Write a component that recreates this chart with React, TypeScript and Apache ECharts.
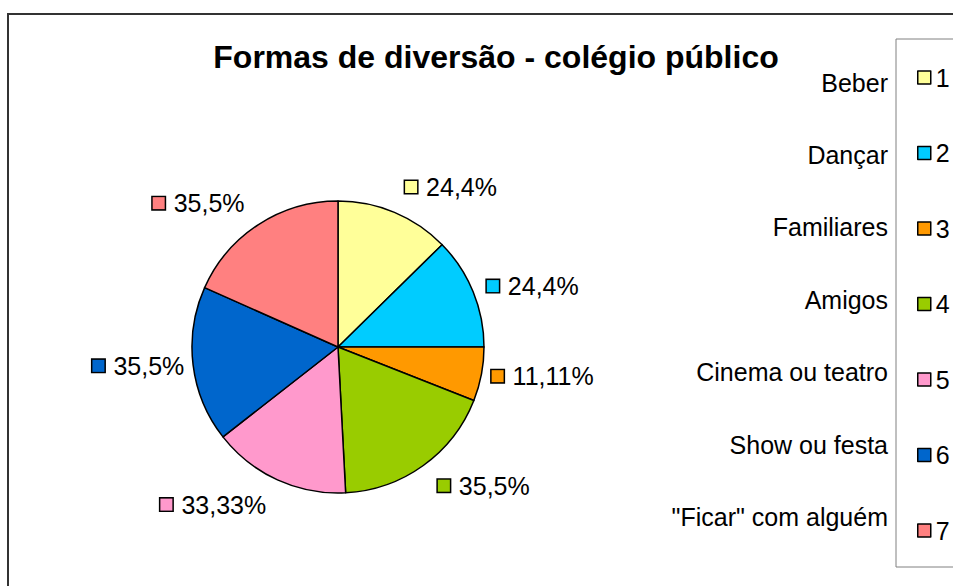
import React, { useEffect, useRef } from "react";
import * as echarts from "echarts";

const categories = ["Beber", "Dançar", "Familiares", "Amigos", "Cinema ou teatro", "Show ou festa", "\"Ficar\" com alguém"];
// slice sizes as read from the drawn sectors (degrees of the circle)
const sliceSizes = [45.5, 44.5, 21.5, 65.5, 55, 62, 66];
// percentages written in the data labels
const labelPercents = ["24,4", "24,4", "11,11", "35,5", "33,33", "35,5", "35,5"];
const colors = ["#FFFF99", "#00CCFF", "#FF9900", "#99CC00", "#FF99CC", "#0066CC", "#FF8080"];
const legendNumbers = ["1", "2", "3", "4", "5", "6", "7"];
const titleText = "Formas de diversão - colégio público";

const FONT = "'Liberation Sans', Arial, sans-serif";

export default function App() {
  const ref = useRef<HTMLDivElement>(null);
  useEffect(() => {
    if (!ref.current) return;
    const chart = echarts.init(ref.current, null, { renderer: "svg" });
    const cx = 338;
    const cy = 347;
    const r = 146;

    const total = sliceSizes.reduce((a, b) => a + b, 0);
    const midAngle = (i: number) => {
      let cum = 0;
      for (let k = 0; k < i; k++) cum += sliceSizes[k];
      return ((cum + sliceSizes[i] / 2) / total) * Math.PI * 2;
    };

    const pieData = categories.map((name, i) => ({
      name,
      value: sliceSizes[i],
      itemStyle: { color: colors[i] },
      label: {
        formatter: "{sq|}{t|" + labelPercents[i] + "%}",
        rich: {
          sq: {
            width: 12,
            height: 12,
            backgroundColor: colors[i],
            borderColor: "#000",
            borderWidth: 1.5,
          },
          t: {
            fontSize: 25,
            fontFamily: FONT,
            color: "#000",
            padding: [0, 0, 0, 9],
          },
        },
      },
    }));

    const catLabels = categories.map((c, i) => ({
      type: "text",
      right: 953 - 888,
      top: 84 + i * 72.4 - 14,
      style: {
        text: c,
        fontSize: 25,
        fontFamily: FONT,
        fill: "#000",
        textAlign: "right",
      },
    }));

    chart.setOption({
      animation: false,
      backgroundColor: "#fff",
      title: {
        text: titleText,
        left: 491,
        top: 36,
        textAlign: "center",
        textStyle: { fontSize: 32, fontWeight: "bold", fontFamily: FONT, color: "#000" },
      },
      legend: {
        orient: "vertical",
        left: 896,
        top: 39,
        padding: [26, 120, 24, 21],
        itemGap: 50.5,
        itemWidth: 13,
        itemHeight: 13,
        icon: "rect",
        borderColor: "#808080",
        borderWidth: 1,
        backgroundColor: "#fff",
        selectedMode: false,
        data: categories,
        formatter: (name: string) => legendNumbers[categories.indexOf(name)],
        textStyle: { fontSize: 25, fontFamily: FONT, color: "#000", lineHeight: 25 },
        itemStyle: { borderColor: "#000", borderWidth: 1.5 },
      },
      graphic: [
        {
          type: "rect",
          shape: { x: 8, y: 14, width: 1200, height: 800 },
          style: { fill: "none", stroke: "#333", lineWidth: 2 },
          silent: true,
          z: -10,
        },
        ...catLabels,
      ],
      series: [
        {
          type: "pie",
          center: [cx, cy],
          radius: r,
          startAngle: 90,
          clockwise: true,
          silent: true,
          data: pieData,
          label: { show: true, position: "outside", overflow: "none" },
          labelLine: { show: false },
          labelLayout: (params: any) => {
            const a = midAngle(params.dataIndex);
            const s = Math.sin(a);
            const c = Math.cos(a);
            const d = r + 6 + 23.3 * Math.abs(c);
            return {
              x: cx + d * s,
              y: cy - d * c,
              align: s >= 0 ? "left" : "right",
              verticalAlign: "middle",
            };
          },
          itemStyle: { borderColor: "#000", borderWidth: 1.5 },
          emphasis: { disabled: true },
        },
      ],
    });
    return () => chart.dispose();
  }, []);
  return (
    <div
      ref={ref}
      style={{ position: "fixed", left: 0, top: 0, width: 953, height: 586, background: "#fff" }}
    />
  );
}
